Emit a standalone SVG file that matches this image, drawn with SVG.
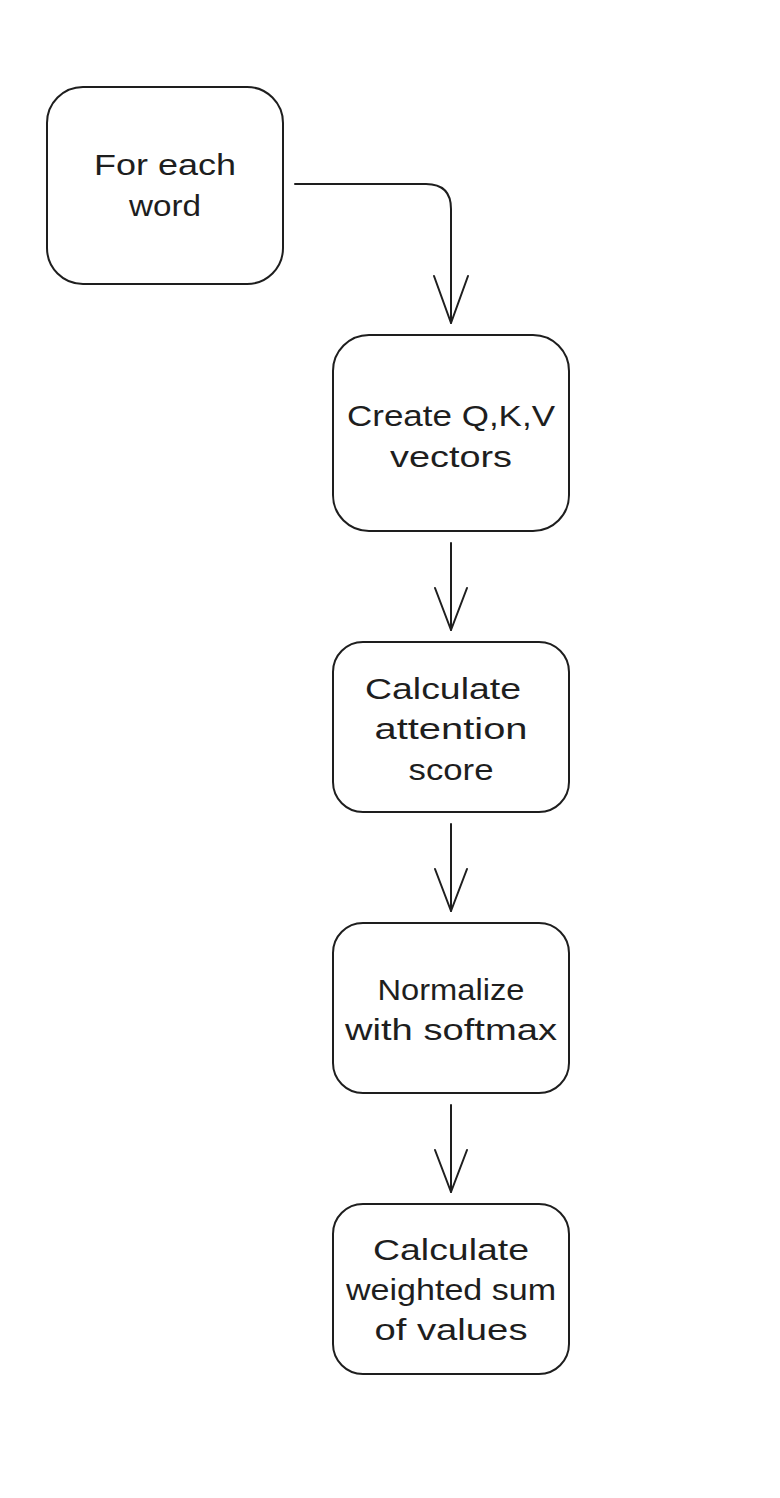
<svg xmlns="http://www.w3.org/2000/svg" width="780" height="1498" viewBox="0 0 780 1498">
<style>
.box{fill:#ffffff;stroke:#1e1e1e;stroke-width:2;}
.conn{fill:none;stroke:#1e1e1e;stroke-width:2;stroke-linecap:round;stroke-linejoin:round;}
.t{font-family:"Liberation Sans","DejaVu Sans",sans-serif;font-size:29px;fill:#1e1e1e;text-anchor:middle;}
</style>
<rect width="780" height="1498" fill="#ffffff"/>
<g id="connectors">
<path class="conn" d="M295 184 H426 Q451 184 451 209 V323"/>
<path class="conn" d="M434 276 L451 323 L468 276"/>
<path class="conn" d="M451 543 V630"/>
<path class="conn" d="M435 588 L451 630 L467 588"/>
<path class="conn" d="M451 824 V911"/>
<path class="conn" d="M435 869 L451 911 L467 869"/>
<path class="conn" d="M451 1105 V1192"/>
<path class="conn" d="M435 1150 L451 1192 L467 1150"/>
</g>
<g id="node1">
<rect class="box" x="47" y="87" width="236" height="197" rx="36"/>
<text class="t" x="165" y="175" textLength="142" lengthAdjust="spacingAndGlyphs">For each</text>
<text class="t" x="165" y="216" textLength="72" lengthAdjust="spacingAndGlyphs">word</text>
</g>
<g id="node2">
<rect class="box" x="333" y="335" width="236" height="196" rx="36"/>
<text class="t" x="451" y="426" textLength="208" lengthAdjust="spacingAndGlyphs">Create Q,K,V</text>
<text class="t" x="451" y="467" textLength="122" lengthAdjust="spacingAndGlyphs">vectors</text>
</g>
<g id="node3">
<rect class="box" x="333" y="642" width="236" height="170" rx="30"/>
<text class="t" x="443" y="699" textLength="156" lengthAdjust="spacingAndGlyphs">Calculate</text>
<text class="t" x="451" y="739" textLength="153" lengthAdjust="spacingAndGlyphs">attention</text>
<text class="t" x="451" y="780" textLength="85" lengthAdjust="spacingAndGlyphs">score</text>
</g>
<g id="node4">
<rect class="box" x="333" y="923" width="236" height="170" rx="30"/>
<text class="t" x="451" y="1000" textLength="147" lengthAdjust="spacingAndGlyphs">Normalize</text>
<text class="t" x="451" y="1040" textLength="212" lengthAdjust="spacingAndGlyphs">with softmax</text>
</g>
<g id="node5">
<rect class="box" x="333" y="1204" width="236" height="170" rx="30"/>
<text class="t" x="451" y="1260" textLength="156" lengthAdjust="spacingAndGlyphs">Calculate</text>
<text class="t" x="451" y="1300" textLength="210" lengthAdjust="spacingAndGlyphs">weighted sum</text>
<text class="t" x="451" y="1340" textLength="153" lengthAdjust="spacingAndGlyphs">of values</text>
</g>
</svg>
